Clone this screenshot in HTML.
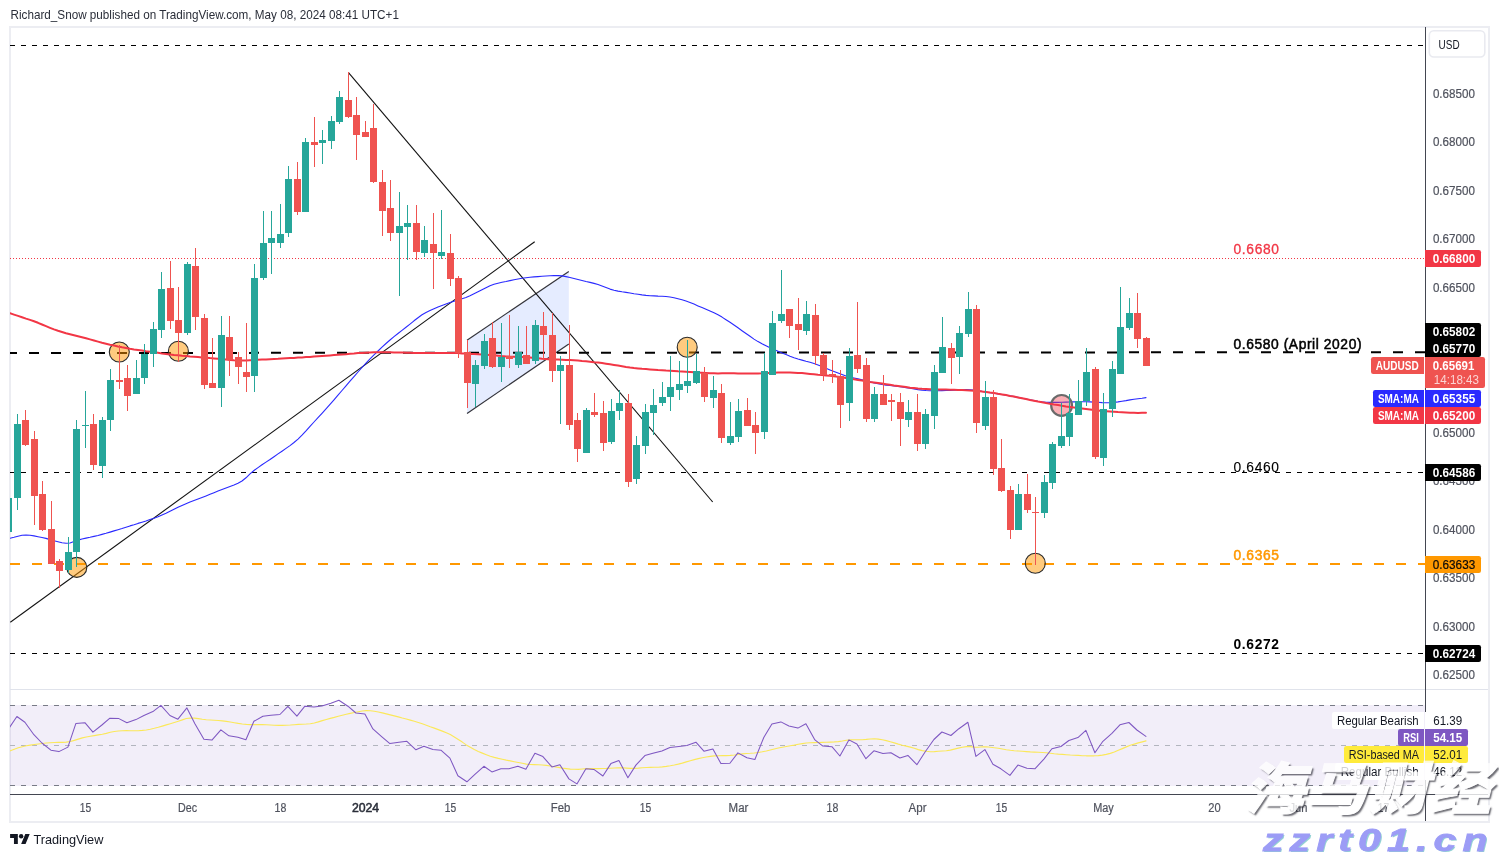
<!DOCTYPE html>
<html lang="en">
<head>
<meta charset="utf-8">
<title>AUDUSD chart - TradingView</title>
<style>
html,body{margin:0;padding:0;background:#fff;}
body{width:1499px;height:857px;overflow:hidden;position:relative;font-family:"Liberation Sans","Noto Sans CJK SC",sans-serif;}
#chart{position:absolute;left:0;top:0;width:1499px;height:857px;overflow:hidden;}
.hdr{position:absolute;left:10.5px;top:5px;height:18px;line-height:18px;font-size:12.6px;color:#2a2e39;white-space:nowrap;letter-spacing:0.12px;}
.ftr{position:absolute;left:10px;top:830px;height:18px;display:flex;align-items:center;color:#131722;}
.ftr svg{display:block;}
.ftr span{font-size:13.4px;margin-left:3.6px;letter-spacing:-0.05px;line-height:18px;}
.wm1{position:absolute;left:1240px;top:755px;font-family:"Liberation Sans","Noto Sans CJK SC","WenQuanYi Zen Hei",sans-serif;font-weight:900;font-size:56px;line-height:70px;-webkit-text-stroke:1px #fff;color:#fff;opacity:0.8;white-space:nowrap;transform:skewX(-14deg) scaleX(1.08);transform-origin:left bottom;text-shadow:2px 2px 1.5px rgba(40,40,50,0.85);letter-spacing:1.5px;}
.wm2{position:absolute;left:1263px;top:822px;-webkit-text-stroke:0.8px #9c9cf6;font-weight:bold;font-style:italic;font-size:32px;line-height:36px;color:#9c9cf6;white-space:nowrap;letter-spacing:4.8px;text-shadow:1px 1px 0 rgba(120,200,200,0.8);transform:scaleX(1.28);transform-origin:left top;}
</style>
</head>
<body>
<div id="chart">
<svg width="1499" height="857" viewBox="0 0 1499 857" style="position:absolute;left:0;top:0;font-family:'Liberation Sans',sans-serif">
<defs>
<clipPath id="cpMain"><rect x="10" y="28" width="1415" height="661"/></clipPath>
<clipPath id="cpRsi"><rect x="10" y="690" width="1415" height="104"/></clipPath>
</defs>
<rect x="10" y="27" width="1479" height="795" fill="#fff" stroke="#ecedf2" stroke-width="2" shape-rendering="crispEdges"/>
<rect x="10" y="689" width="1478" height="1" fill="#e0e3eb" shape-rendering="crispEdges"/>
<g clip-path="url(#cpMain)">
<polygon points="467,340.2 568.8,271.4 568.8,344.1 467,413.4" fill="#2962ff" fill-opacity="0.12"/>
<line x1="467" y1="340.2" x2="568.8" y2="271.4" stroke="#33333a" stroke-width="1.2"/>
<line x1="467" y1="413.4" x2="568.8" y2="344.1" stroke="#33333a" stroke-width="1.2"/>
<path d="M10 45h5v1h-5zM21 45h5v1h-5zM32 45h5v1h-5zM43 45h5v1h-5zM54 45h5v1h-5zM65 45h5v1h-5zM76 45h5v1h-5zM87 45h5v1h-5zM98 45h5v1h-5zM109 45h5v1h-5zM120 45h5v1h-5zM131 45h5v1h-5zM142 45h5v1h-5zM153 45h5v1h-5zM164 45h5v1h-5zM175 45h5v1h-5zM186 45h5v1h-5zM197 45h5v1h-5zM208 45h5v1h-5zM219 45h5v1h-5zM230 45h5v1h-5zM241 45h5v1h-5zM252 45h5v1h-5zM263 45h5v1h-5zM274 45h5v1h-5zM285 45h5v1h-5zM296 45h5v1h-5zM307 45h5v1h-5zM318 45h5v1h-5zM329 45h5v1h-5zM340 45h5v1h-5zM351 45h5v1h-5zM362 45h5v1h-5zM373 45h5v1h-5zM384 45h5v1h-5zM395 45h5v1h-5zM406 45h5v1h-5zM417 45h5v1h-5zM428 45h5v1h-5zM439 45h5v1h-5zM450 45h5v1h-5zM461 45h5v1h-5zM472 45h5v1h-5zM483 45h5v1h-5zM494 45h5v1h-5zM505 45h5v1h-5zM516 45h5v1h-5zM527 45h5v1h-5zM538 45h5v1h-5zM549 45h5v1h-5zM560 45h5v1h-5zM571 45h5v1h-5zM582 45h5v1h-5zM593 45h5v1h-5zM604 45h5v1h-5zM615 45h5v1h-5zM626 45h5v1h-5zM637 45h5v1h-5zM648 45h5v1h-5zM659 45h5v1h-5zM670 45h5v1h-5zM681 45h5v1h-5zM692 45h5v1h-5zM703 45h5v1h-5zM714 45h5v1h-5zM725 45h5v1h-5zM736 45h5v1h-5zM747 45h5v1h-5zM758 45h5v1h-5zM769 45h5v1h-5zM780 45h5v1h-5zM791 45h5v1h-5zM802 45h5v1h-5zM813 45h5v1h-5zM824 45h5v1h-5zM835 45h5v1h-5zM846 45h5v1h-5zM857 45h5v1h-5zM868 45h5v1h-5zM879 45h5v1h-5zM890 45h5v1h-5zM901 45h5v1h-5zM912 45h5v1h-5zM923 45h5v1h-5zM934 45h5v1h-5zM945 45h5v1h-5zM956 45h5v1h-5zM967 45h5v1h-5zM978 45h5v1h-5zM989 45h5v1h-5zM1000 45h5v1h-5zM1011 45h5v1h-5zM1022 45h5v1h-5zM1033 45h5v1h-5zM1044 45h5v1h-5zM1055 45h5v1h-5zM1066 45h5v1h-5zM1077 45h5v1h-5zM1088 45h5v1h-5zM1099 45h5v1h-5zM1110 45h5v1h-5zM1121 45h5v1h-5zM1132 45h5v1h-5zM1143 45h5v1h-5zM1154 45h5v1h-5zM1165 45h5v1h-5zM1176 45h5v1h-5zM1187 45h5v1h-5zM1198 45h5v1h-5zM1209 45h5v1h-5zM1220 45h5v1h-5zM1231 45h5v1h-5zM1242 45h5v1h-5zM1253 45h5v1h-5zM1264 45h5v1h-5zM1275 45h5v1h-5zM1286 45h5v1h-5zM1297 45h5v1h-5zM1308 45h5v1h-5zM1319 45h5v1h-5zM1330 45h5v1h-5zM1341 45h5v1h-5zM1352 45h5v1h-5zM1363 45h5v1h-5zM1374 45h5v1h-5zM1385 45h5v1h-5zM1396 45h5v1h-5zM1407 45h5v1h-5zM1418 45h5v1h-5z" fill="#000" shape-rendering="crispEdges"/>
<path d="M10 258h1v1h-1zM13 258h1v1h-1zM16 258h1v1h-1zM19 258h1v1h-1zM22 258h1v1h-1zM25 258h1v1h-1zM28 258h1v1h-1zM31 258h1v1h-1zM34 258h1v1h-1zM37 258h1v1h-1zM40 258h1v1h-1zM43 258h1v1h-1zM46 258h1v1h-1zM49 258h1v1h-1zM52 258h1v1h-1zM55 258h1v1h-1zM58 258h1v1h-1zM61 258h1v1h-1zM64 258h1v1h-1zM67 258h1v1h-1zM70 258h1v1h-1zM73 258h1v1h-1zM76 258h1v1h-1zM79 258h1v1h-1zM82 258h1v1h-1zM85 258h1v1h-1zM88 258h1v1h-1zM91 258h1v1h-1zM94 258h1v1h-1zM97 258h1v1h-1zM100 258h1v1h-1zM103 258h1v1h-1zM106 258h1v1h-1zM109 258h1v1h-1zM112 258h1v1h-1zM115 258h1v1h-1zM118 258h1v1h-1zM121 258h1v1h-1zM124 258h1v1h-1zM127 258h1v1h-1zM130 258h1v1h-1zM133 258h1v1h-1zM136 258h1v1h-1zM139 258h1v1h-1zM142 258h1v1h-1zM145 258h1v1h-1zM148 258h1v1h-1zM151 258h1v1h-1zM154 258h1v1h-1zM157 258h1v1h-1zM160 258h1v1h-1zM163 258h1v1h-1zM166 258h1v1h-1zM169 258h1v1h-1zM172 258h1v1h-1zM175 258h1v1h-1zM178 258h1v1h-1zM181 258h1v1h-1zM184 258h1v1h-1zM187 258h1v1h-1zM190 258h1v1h-1zM193 258h1v1h-1zM196 258h1v1h-1zM199 258h1v1h-1zM202 258h1v1h-1zM205 258h1v1h-1zM208 258h1v1h-1zM211 258h1v1h-1zM214 258h1v1h-1zM217 258h1v1h-1zM220 258h1v1h-1zM223 258h1v1h-1zM226 258h1v1h-1zM229 258h1v1h-1zM232 258h1v1h-1zM235 258h1v1h-1zM238 258h1v1h-1zM241 258h1v1h-1zM244 258h1v1h-1zM247 258h1v1h-1zM250 258h1v1h-1zM253 258h1v1h-1zM256 258h1v1h-1zM259 258h1v1h-1zM262 258h1v1h-1zM265 258h1v1h-1zM268 258h1v1h-1zM271 258h1v1h-1zM274 258h1v1h-1zM277 258h1v1h-1zM280 258h1v1h-1zM283 258h1v1h-1zM286 258h1v1h-1zM289 258h1v1h-1zM292 258h1v1h-1zM295 258h1v1h-1zM298 258h1v1h-1zM301 258h1v1h-1zM304 258h1v1h-1zM307 258h1v1h-1zM310 258h1v1h-1zM313 258h1v1h-1zM316 258h1v1h-1zM319 258h1v1h-1zM322 258h1v1h-1zM325 258h1v1h-1zM328 258h1v1h-1zM331 258h1v1h-1zM334 258h1v1h-1zM337 258h1v1h-1zM340 258h1v1h-1zM343 258h1v1h-1zM346 258h1v1h-1zM349 258h1v1h-1zM352 258h1v1h-1zM355 258h1v1h-1zM358 258h1v1h-1zM361 258h1v1h-1zM364 258h1v1h-1zM367 258h1v1h-1zM370 258h1v1h-1zM373 258h1v1h-1zM376 258h1v1h-1zM379 258h1v1h-1zM382 258h1v1h-1zM385 258h1v1h-1zM388 258h1v1h-1zM391 258h1v1h-1zM394 258h1v1h-1zM397 258h1v1h-1zM400 258h1v1h-1zM403 258h1v1h-1zM406 258h1v1h-1zM409 258h1v1h-1zM412 258h1v1h-1zM415 258h1v1h-1zM418 258h1v1h-1zM421 258h1v1h-1zM424 258h1v1h-1zM427 258h1v1h-1zM430 258h1v1h-1zM433 258h1v1h-1zM436 258h1v1h-1zM439 258h1v1h-1zM442 258h1v1h-1zM445 258h1v1h-1zM448 258h1v1h-1zM451 258h1v1h-1zM454 258h1v1h-1zM457 258h1v1h-1zM460 258h1v1h-1zM463 258h1v1h-1zM466 258h1v1h-1zM469 258h1v1h-1zM472 258h1v1h-1zM475 258h1v1h-1zM478 258h1v1h-1zM481 258h1v1h-1zM484 258h1v1h-1zM487 258h1v1h-1zM490 258h1v1h-1zM493 258h1v1h-1zM496 258h1v1h-1zM499 258h1v1h-1zM502 258h1v1h-1zM505 258h1v1h-1zM508 258h1v1h-1zM511 258h1v1h-1zM514 258h1v1h-1zM517 258h1v1h-1zM520 258h1v1h-1zM523 258h1v1h-1zM526 258h1v1h-1zM529 258h1v1h-1zM532 258h1v1h-1zM535 258h1v1h-1zM538 258h1v1h-1zM541 258h1v1h-1zM544 258h1v1h-1zM547 258h1v1h-1zM550 258h1v1h-1zM553 258h1v1h-1zM556 258h1v1h-1zM559 258h1v1h-1zM562 258h1v1h-1zM565 258h1v1h-1zM568 258h1v1h-1zM571 258h1v1h-1zM574 258h1v1h-1zM577 258h1v1h-1zM580 258h1v1h-1zM583 258h1v1h-1zM586 258h1v1h-1zM589 258h1v1h-1zM592 258h1v1h-1zM595 258h1v1h-1zM598 258h1v1h-1zM601 258h1v1h-1zM604 258h1v1h-1zM607 258h1v1h-1zM610 258h1v1h-1zM613 258h1v1h-1zM616 258h1v1h-1zM619 258h1v1h-1zM622 258h1v1h-1zM625 258h1v1h-1zM628 258h1v1h-1zM631 258h1v1h-1zM634 258h1v1h-1zM637 258h1v1h-1zM640 258h1v1h-1zM643 258h1v1h-1zM646 258h1v1h-1zM649 258h1v1h-1zM652 258h1v1h-1zM655 258h1v1h-1zM658 258h1v1h-1zM661 258h1v1h-1zM664 258h1v1h-1zM667 258h1v1h-1zM670 258h1v1h-1zM673 258h1v1h-1zM676 258h1v1h-1zM679 258h1v1h-1zM682 258h1v1h-1zM685 258h1v1h-1zM688 258h1v1h-1zM691 258h1v1h-1zM694 258h1v1h-1zM697 258h1v1h-1zM700 258h1v1h-1zM703 258h1v1h-1zM706 258h1v1h-1zM709 258h1v1h-1zM712 258h1v1h-1zM715 258h1v1h-1zM718 258h1v1h-1zM721 258h1v1h-1zM724 258h1v1h-1zM727 258h1v1h-1zM730 258h1v1h-1zM733 258h1v1h-1zM736 258h1v1h-1zM739 258h1v1h-1zM742 258h1v1h-1zM745 258h1v1h-1zM748 258h1v1h-1zM751 258h1v1h-1zM754 258h1v1h-1zM757 258h1v1h-1zM760 258h1v1h-1zM763 258h1v1h-1zM766 258h1v1h-1zM769 258h1v1h-1zM772 258h1v1h-1zM775 258h1v1h-1zM778 258h1v1h-1zM781 258h1v1h-1zM784 258h1v1h-1zM787 258h1v1h-1zM790 258h1v1h-1zM793 258h1v1h-1zM796 258h1v1h-1zM799 258h1v1h-1zM802 258h1v1h-1zM805 258h1v1h-1zM808 258h1v1h-1zM811 258h1v1h-1zM814 258h1v1h-1zM817 258h1v1h-1zM820 258h1v1h-1zM823 258h1v1h-1zM826 258h1v1h-1zM829 258h1v1h-1zM832 258h1v1h-1zM835 258h1v1h-1zM838 258h1v1h-1zM841 258h1v1h-1zM844 258h1v1h-1zM847 258h1v1h-1zM850 258h1v1h-1zM853 258h1v1h-1zM856 258h1v1h-1zM859 258h1v1h-1zM862 258h1v1h-1zM865 258h1v1h-1zM868 258h1v1h-1zM871 258h1v1h-1zM874 258h1v1h-1zM877 258h1v1h-1zM880 258h1v1h-1zM883 258h1v1h-1zM886 258h1v1h-1zM889 258h1v1h-1zM892 258h1v1h-1zM895 258h1v1h-1zM898 258h1v1h-1zM901 258h1v1h-1zM904 258h1v1h-1zM907 258h1v1h-1zM910 258h1v1h-1zM913 258h1v1h-1zM916 258h1v1h-1zM919 258h1v1h-1zM922 258h1v1h-1zM925 258h1v1h-1zM928 258h1v1h-1zM931 258h1v1h-1zM934 258h1v1h-1zM937 258h1v1h-1zM940 258h1v1h-1zM943 258h1v1h-1zM946 258h1v1h-1zM949 258h1v1h-1zM952 258h1v1h-1zM955 258h1v1h-1zM958 258h1v1h-1zM961 258h1v1h-1zM964 258h1v1h-1zM967 258h1v1h-1zM970 258h1v1h-1zM973 258h1v1h-1zM976 258h1v1h-1zM979 258h1v1h-1zM982 258h1v1h-1zM985 258h1v1h-1zM988 258h1v1h-1zM991 258h1v1h-1zM994 258h1v1h-1zM997 258h1v1h-1zM1000 258h1v1h-1zM1003 258h1v1h-1zM1006 258h1v1h-1zM1009 258h1v1h-1zM1012 258h1v1h-1zM1015 258h1v1h-1zM1018 258h1v1h-1zM1021 258h1v1h-1zM1024 258h1v1h-1zM1027 258h1v1h-1zM1030 258h1v1h-1zM1033 258h1v1h-1zM1036 258h1v1h-1zM1039 258h1v1h-1zM1042 258h1v1h-1zM1045 258h1v1h-1zM1048 258h1v1h-1zM1051 258h1v1h-1zM1054 258h1v1h-1zM1057 258h1v1h-1zM1060 258h1v1h-1zM1063 258h1v1h-1zM1066 258h1v1h-1zM1069 258h1v1h-1zM1072 258h1v1h-1zM1075 258h1v1h-1zM1078 258h1v1h-1zM1081 258h1v1h-1zM1084 258h1v1h-1zM1087 258h1v1h-1zM1090 258h1v1h-1zM1093 258h1v1h-1zM1096 258h1v1h-1zM1099 258h1v1h-1zM1102 258h1v1h-1zM1105 258h1v1h-1zM1108 258h1v1h-1zM1111 258h1v1h-1zM1114 258h1v1h-1zM1117 258h1v1h-1zM1120 258h1v1h-1zM1123 258h1v1h-1zM1126 258h1v1h-1zM1129 258h1v1h-1zM1132 258h1v1h-1zM1135 258h1v1h-1zM1138 258h1v1h-1zM1141 258h1v1h-1zM1144 258h1v1h-1zM1147 258h1v1h-1zM1150 258h1v1h-1zM1153 258h1v1h-1zM1156 258h1v1h-1zM1159 258h1v1h-1zM1162 258h1v1h-1zM1165 258h1v1h-1zM1168 258h1v1h-1zM1171 258h1v1h-1zM1174 258h1v1h-1zM1177 258h1v1h-1zM1180 258h1v1h-1zM1183 258h1v1h-1zM1186 258h1v1h-1zM1189 258h1v1h-1zM1192 258h1v1h-1zM1195 258h1v1h-1zM1198 258h1v1h-1zM1201 258h1v1h-1zM1204 258h1v1h-1zM1207 258h1v1h-1zM1210 258h1v1h-1zM1213 258h1v1h-1zM1216 258h1v1h-1zM1219 258h1v1h-1zM1222 258h1v1h-1zM1225 258h1v1h-1zM1228 258h1v1h-1zM1231 258h1v1h-1zM1234 258h1v1h-1zM1237 258h1v1h-1zM1240 258h1v1h-1zM1243 258h1v1h-1zM1246 258h1v1h-1zM1249 258h1v1h-1zM1252 258h1v1h-1zM1255 258h1v1h-1zM1258 258h1v1h-1zM1261 258h1v1h-1zM1264 258h1v1h-1zM1267 258h1v1h-1zM1270 258h1v1h-1zM1273 258h1v1h-1zM1276 258h1v1h-1zM1279 258h1v1h-1zM1282 258h1v1h-1zM1285 258h1v1h-1zM1288 258h1v1h-1zM1291 258h1v1h-1zM1294 258h1v1h-1zM1297 258h1v1h-1zM1300 258h1v1h-1zM1303 258h1v1h-1zM1306 258h1v1h-1zM1309 258h1v1h-1zM1312 258h1v1h-1zM1315 258h1v1h-1zM1318 258h1v1h-1zM1321 258h1v1h-1zM1324 258h1v1h-1zM1327 258h1v1h-1zM1330 258h1v1h-1zM1333 258h1v1h-1zM1336 258h1v1h-1zM1339 258h1v1h-1zM1342 258h1v1h-1zM1345 258h1v1h-1zM1348 258h1v1h-1zM1351 258h1v1h-1zM1354 258h1v1h-1zM1357 258h1v1h-1zM1360 258h1v1h-1zM1363 258h1v1h-1zM1366 258h1v1h-1zM1369 258h1v1h-1zM1372 258h1v1h-1zM1375 258h1v1h-1zM1378 258h1v1h-1zM1381 258h1v1h-1zM1384 258h1v1h-1zM1387 258h1v1h-1zM1390 258h1v1h-1zM1393 258h1v1h-1zM1396 258h1v1h-1zM1399 258h1v1h-1zM1402 258h1v1h-1zM1405 258h1v1h-1zM1408 258h1v1h-1zM1411 258h1v1h-1zM1414 258h1v1h-1zM1417 258h1v1h-1zM1420 258h1v1h-1zM1423 258h1v1h-1z" fill="#f23645" shape-rendering="crispEdges"/>
<line x1="-15" y1="353.03" x2="1425" y2="352.2" stroke="#000" stroke-width="2" stroke-dasharray="10 12"/>
<path d="M10 472h5v1h-5zM21 472h5v1h-5zM32 472h5v1h-5zM43 472h5v1h-5zM54 472h5v1h-5zM65 472h5v1h-5zM76 472h5v1h-5zM87 472h5v1h-5zM98 472h5v1h-5zM109 472h5v1h-5zM120 472h5v1h-5zM131 472h5v1h-5zM142 472h5v1h-5zM153 472h5v1h-5zM164 472h5v1h-5zM175 472h5v1h-5zM186 472h5v1h-5zM197 472h5v1h-5zM208 472h5v1h-5zM219 472h5v1h-5zM230 472h5v1h-5zM241 472h5v1h-5zM252 472h5v1h-5zM263 472h5v1h-5zM274 472h5v1h-5zM285 472h5v1h-5zM296 472h5v1h-5zM307 472h5v1h-5zM318 472h5v1h-5zM329 472h5v1h-5zM340 472h5v1h-5zM351 472h5v1h-5zM362 472h5v1h-5zM373 472h5v1h-5zM384 472h5v1h-5zM395 472h5v1h-5zM406 472h5v1h-5zM417 472h5v1h-5zM428 472h5v1h-5zM439 472h5v1h-5zM450 472h5v1h-5zM461 472h5v1h-5zM472 472h5v1h-5zM483 472h5v1h-5zM494 472h5v1h-5zM505 472h5v1h-5zM516 472h5v1h-5zM527 472h5v1h-5zM538 472h5v1h-5zM549 472h5v1h-5zM560 472h5v1h-5zM571 472h5v1h-5zM582 472h5v1h-5zM593 472h5v1h-5zM604 472h5v1h-5zM615 472h5v1h-5zM626 472h5v1h-5zM637 472h5v1h-5zM648 472h5v1h-5zM659 472h5v1h-5zM670 472h5v1h-5zM681 472h5v1h-5zM692 472h5v1h-5zM703 472h5v1h-5zM714 472h5v1h-5zM725 472h5v1h-5zM736 472h5v1h-5zM747 472h5v1h-5zM758 472h5v1h-5zM769 472h5v1h-5zM780 472h5v1h-5zM791 472h5v1h-5zM802 472h5v1h-5zM813 472h5v1h-5zM824 472h5v1h-5zM835 472h5v1h-5zM846 472h5v1h-5zM857 472h5v1h-5zM868 472h5v1h-5zM879 472h5v1h-5zM890 472h5v1h-5zM901 472h5v1h-5zM912 472h5v1h-5zM923 472h5v1h-5zM934 472h5v1h-5zM945 472h5v1h-5zM956 472h5v1h-5zM967 472h5v1h-5zM978 472h5v1h-5zM989 472h5v1h-5zM1000 472h5v1h-5zM1011 472h5v1h-5zM1022 472h5v1h-5zM1033 472h5v1h-5zM1044 472h5v1h-5zM1055 472h5v1h-5zM1066 472h5v1h-5zM1077 472h5v1h-5zM1088 472h5v1h-5zM1099 472h5v1h-5zM1110 472h5v1h-5zM1121 472h5v1h-5zM1132 472h5v1h-5zM1143 472h5v1h-5zM1154 472h5v1h-5zM1165 472h5v1h-5zM1176 472h5v1h-5zM1187 472h5v1h-5zM1198 472h5v1h-5zM1209 472h5v1h-5zM1220 472h5v1h-5zM1231 472h5v1h-5zM1242 472h5v1h-5zM1253 472h5v1h-5zM1264 472h5v1h-5zM1275 472h5v1h-5zM1286 472h5v1h-5zM1297 472h5v1h-5zM1308 472h5v1h-5zM1319 472h5v1h-5zM1330 472h5v1h-5zM1341 472h5v1h-5zM1352 472h5v1h-5zM1363 472h5v1h-5zM1374 472h5v1h-5zM1385 472h5v1h-5zM1396 472h5v1h-5zM1407 472h5v1h-5zM1418 472h5v1h-5z" fill="#000" shape-rendering="crispEdges"/>
<path d="M10 563h10v2h-10zM32 563h10v2h-10zM54 563h10v2h-10zM76 563h10v2h-10zM98 563h10v2h-10zM120 563h10v2h-10zM142 563h10v2h-10zM164 563h10v2h-10zM186 563h10v2h-10zM208 563h10v2h-10zM230 563h10v2h-10zM252 563h10v2h-10zM274 563h10v2h-10zM296 563h10v2h-10zM318 563h10v2h-10zM340 563h10v2h-10zM362 563h10v2h-10zM384 563h10v2h-10zM406 563h10v2h-10zM428 563h10v2h-10zM450 563h10v2h-10zM472 563h10v2h-10zM494 563h10v2h-10zM516 563h10v2h-10zM538 563h10v2h-10zM560 563h10v2h-10zM582 563h10v2h-10zM604 563h10v2h-10zM626 563h10v2h-10zM648 563h10v2h-10zM670 563h10v2h-10zM692 563h10v2h-10zM714 563h10v2h-10zM736 563h10v2h-10zM758 563h10v2h-10zM780 563h10v2h-10zM802 563h10v2h-10zM824 563h10v2h-10zM846 563h10v2h-10zM868 563h10v2h-10zM890 563h10v2h-10zM912 563h10v2h-10zM934 563h10v2h-10zM956 563h10v2h-10zM978 563h10v2h-10zM1000 563h10v2h-10zM1022 563h10v2h-10zM1044 563h10v2h-10zM1066 563h10v2h-10zM1088 563h10v2h-10zM1110 563h10v2h-10zM1132 563h10v2h-10zM1154 563h10v2h-10zM1176 563h10v2h-10zM1198 563h10v2h-10zM1220 563h10v2h-10zM1242 563h10v2h-10zM1264 563h10v2h-10zM1286 563h10v2h-10zM1308 563h10v2h-10zM1330 563h10v2h-10zM1352 563h10v2h-10zM1374 563h10v2h-10zM1396 563h10v2h-10zM1418 563h7v2h-7z" fill="#ff9800" shape-rendering="crispEdges"/>
<path d="M10 653h5v1h-5zM21 653h5v1h-5zM32 653h5v1h-5zM43 653h5v1h-5zM54 653h5v1h-5zM65 653h5v1h-5zM76 653h5v1h-5zM87 653h5v1h-5zM98 653h5v1h-5zM109 653h5v1h-5zM120 653h5v1h-5zM131 653h5v1h-5zM142 653h5v1h-5zM153 653h5v1h-5zM164 653h5v1h-5zM175 653h5v1h-5zM186 653h5v1h-5zM197 653h5v1h-5zM208 653h5v1h-5zM219 653h5v1h-5zM230 653h5v1h-5zM241 653h5v1h-5zM252 653h5v1h-5zM263 653h5v1h-5zM274 653h5v1h-5zM285 653h5v1h-5zM296 653h5v1h-5zM307 653h5v1h-5zM318 653h5v1h-5zM329 653h5v1h-5zM340 653h5v1h-5zM351 653h5v1h-5zM362 653h5v1h-5zM373 653h5v1h-5zM384 653h5v1h-5zM395 653h5v1h-5zM406 653h5v1h-5zM417 653h5v1h-5zM428 653h5v1h-5zM439 653h5v1h-5zM450 653h5v1h-5zM461 653h5v1h-5zM472 653h5v1h-5zM483 653h5v1h-5zM494 653h5v1h-5zM505 653h5v1h-5zM516 653h5v1h-5zM527 653h5v1h-5zM538 653h5v1h-5zM549 653h5v1h-5zM560 653h5v1h-5zM571 653h5v1h-5zM582 653h5v1h-5zM593 653h5v1h-5zM604 653h5v1h-5zM615 653h5v1h-5zM626 653h5v1h-5zM637 653h5v1h-5zM648 653h5v1h-5zM659 653h5v1h-5zM670 653h5v1h-5zM681 653h5v1h-5zM692 653h5v1h-5zM703 653h5v1h-5zM714 653h5v1h-5zM725 653h5v1h-5zM736 653h5v1h-5zM747 653h5v1h-5zM758 653h5v1h-5zM769 653h5v1h-5zM780 653h5v1h-5zM791 653h5v1h-5zM802 653h5v1h-5zM813 653h5v1h-5zM824 653h5v1h-5zM835 653h5v1h-5zM846 653h5v1h-5zM857 653h5v1h-5zM868 653h5v1h-5zM879 653h5v1h-5zM890 653h5v1h-5zM901 653h5v1h-5zM912 653h5v1h-5zM923 653h5v1h-5zM934 653h5v1h-5zM945 653h5v1h-5zM956 653h5v1h-5zM967 653h5v1h-5zM978 653h5v1h-5zM989 653h5v1h-5zM1000 653h5v1h-5zM1011 653h5v1h-5zM1022 653h5v1h-5zM1033 653h5v1h-5zM1044 653h5v1h-5zM1055 653h5v1h-5zM1066 653h5v1h-5zM1077 653h5v1h-5zM1088 653h5v1h-5zM1099 653h5v1h-5zM1110 653h5v1h-5zM1121 653h5v1h-5zM1132 653h5v1h-5zM1143 653h5v1h-5zM1154 653h5v1h-5zM1165 653h5v1h-5zM1176 653h5v1h-5zM1187 653h5v1h-5zM1198 653h5v1h-5zM1209 653h5v1h-5zM1220 653h5v1h-5zM1231 653h5v1h-5zM1242 653h5v1h-5zM1253 653h5v1h-5zM1264 653h5v1h-5zM1275 653h5v1h-5zM1286 653h5v1h-5zM1297 653h5v1h-5zM1308 653h5v1h-5zM1319 653h5v1h-5zM1330 653h5v1h-5zM1341 653h5v1h-5zM1352 653h5v1h-5zM1363 653h5v1h-5zM1374 653h5v1h-5zM1385 653h5v1h-5zM1396 653h5v1h-5zM1407 653h5v1h-5zM1418 653h5v1h-5z" fill="#000" shape-rendering="crispEdges"/>
<line x1="10.3" y1="622.2" x2="534.7" y2="241.7" stroke="#111" stroke-width="1.1"/>
<line x1="348.5" y1="72.6" x2="712.7" y2="502" stroke="#111" stroke-width="1.1"/>
<circle cx="119.3" cy="352" r="10" fill="#ff9800" fill-opacity="0.5" stroke="#2a2a2a" stroke-width="1.1"/>
<circle cx="178.4" cy="351.2" r="10" fill="#ff9800" fill-opacity="0.5" stroke="#2a2a2a" stroke-width="1.1"/>
<circle cx="76.8" cy="567.4" r="10" fill="#ff9800" fill-opacity="0.5" stroke="#2a2a2a" stroke-width="1.1"/>
<circle cx="687.2" cy="347.3" r="10" fill="#ff9800" fill-opacity="0.5" stroke="#2a2a2a" stroke-width="1.1"/>
<circle cx="1035.3" cy="563.3" r="10" fill="#ff9800" fill-opacity="0.5" stroke="#2a2a2a" stroke-width="1.1"/>
<path d="M10.0 538.3 L14.0 537.3 L18.0 536.2 L22.0 535.3 L26.0 535.0 L30.0 535.2 L34.0 535.9 L38.0 536.7 L42.0 537.5 L46.0 538.4 L50.0 539.6 L54.0 540.7 L58.0 541.7 L62.0 542.7 L66.0 543.3 L70.0 543.0 L74.0 541.6 L78.0 540.1 L82.0 539.0 L86.0 538.1 L90.0 537.3 L94.0 536.4 L98.0 535.5 L102.0 534.4 L106.0 533.3 L110.0 532.1 L114.0 530.9 L118.0 529.7 L122.0 528.5 L126.0 527.2 L130.0 525.9 L134.0 524.7 L138.0 523.4 L142.0 522.2 L146.0 521.0 L150.0 519.6 L154.0 518.2 L158.0 516.7 L162.0 515.0 L166.0 513.2 L170.0 511.2 L174.0 509.2 L178.0 507.3 L182.0 505.4 L186.0 503.7 L190.0 502.1 L194.0 500.6 L198.0 499.1 L202.0 497.5 L206.0 495.9 L210.0 494.3 L214.0 492.7 L218.0 491.1 L222.0 489.5 L226.0 487.9 L230.0 486.4 L234.0 484.9 L238.0 483.2 L242.0 481.0 L246.0 477.8 L250.0 473.9 L254.0 470.5 L258.0 467.6 L262.0 464.8 L266.0 462.1 L270.0 459.5 L274.0 456.7 L278.0 453.9 L282.0 451.2 L286.0 448.4 L290.0 445.6 L294.0 442.5 L298.0 439.1 L302.0 435.2 L306.0 430.9 L310.0 426.4 L314.0 422.0 L318.0 417.7 L322.0 413.3 L326.0 408.9 L330.0 404.4 L334.0 399.9 L338.0 395.2 L342.0 390.5 L346.0 385.8 L350.0 381.2 L354.0 376.6 L358.0 372.0 L362.0 367.5 L366.0 363.1 L370.0 358.9 L374.0 354.9 L378.0 351.0 L382.0 347.2 L386.0 343.5 L390.0 340.0 L394.0 336.7 L398.0 333.5 L402.0 330.4 L406.0 327.3 L410.0 324.1 L414.0 320.8 L418.0 317.7 L422.0 314.8 L426.0 312.5 L430.0 310.5 L434.0 308.7 L438.0 307.0 L442.0 305.4 L446.0 303.9 L450.0 302.5 L454.0 301.2 L458.0 299.9 L462.0 298.7 L466.0 297.4 L470.0 295.7 L474.0 293.8 L478.0 291.8 L482.0 289.8 L486.0 287.7 L490.0 285.8 L494.0 284.3 L498.0 283.2 L502.0 282.3 L506.0 281.5 L510.0 280.6 L514.0 279.7 L518.0 279.0 L522.0 278.3 L526.0 277.8 L530.0 277.3 L534.0 276.9 L538.0 276.6 L542.0 276.3 L546.0 276.0 L550.0 275.8 L554.0 275.6 L558.0 275.6 L562.0 275.9 L566.0 276.6 L570.0 277.5 L574.0 278.5 L578.0 279.5 L582.0 280.5 L586.0 281.5 L590.0 282.4 L594.0 283.4 L598.0 284.5 L602.0 286.0 L606.0 287.6 L610.0 289.1 L614.0 290.3 L618.0 291.1 L622.0 291.8 L626.0 292.4 L630.0 293.0 L634.0 293.7 L638.0 294.3 L642.0 294.9 L646.0 295.4 L650.0 295.7 L654.0 295.9 L658.0 296.1 L662.0 296.2 L666.0 296.5 L670.0 297.0 L674.0 297.7 L678.0 298.7 L682.0 299.8 L686.0 301.1 L690.0 302.4 L694.0 304.1 L698.0 305.9 L702.0 307.6 L706.0 309.3 L710.0 311.0 L714.0 312.8 L718.0 314.8 L722.0 317.1 L726.0 319.7 L730.0 322.3 L734.0 325.0 L738.0 327.8 L742.0 330.7 L746.0 333.5 L750.0 336.3 L754.0 339.1 L758.0 341.6 L762.0 343.8 L766.0 345.8 L770.0 347.7 L774.0 349.5 L778.0 351.3 L782.0 353.0 L786.0 354.6 L790.0 356.3 L794.0 357.8 L798.0 359.0 L802.0 360.1 L806.0 361.2 L810.0 362.2 L814.0 363.5 L818.0 365.0 L822.0 366.6 L826.0 368.3 L830.0 370.0 L834.0 371.6 L838.0 373.1 L842.0 374.5 L846.0 375.9 L850.0 377.1 L854.0 378.0 L858.0 378.9 L862.0 379.8 L866.0 380.8 L870.0 381.8 L874.0 382.9 L878.0 383.8 L882.0 384.5 L886.0 385.1 L890.0 385.5 L894.0 386.0 L898.0 386.4 L902.0 387.0 L906.0 387.6 L910.0 388.3 L914.0 389.0 L918.0 389.6 L922.0 390.1 L926.0 390.5 L930.0 390.7 L934.0 390.7 L938.0 390.7 L942.0 390.6 L946.0 390.5 L950.0 390.4 L954.0 390.2 L958.0 390.0 L962.0 389.8 L966.0 389.6 L970.0 389.7 L974.0 390.1 L978.0 390.7 L982.0 391.4 L986.0 392.1 L990.0 392.7 L994.0 393.3 L998.0 393.9 L1002.0 394.5 L1006.0 395.2 L1010.0 395.9 L1014.0 396.6 L1018.0 397.4 L1022.0 398.2 L1026.0 399.0 L1030.0 399.8 L1034.0 400.6 L1038.0 401.3 L1042.0 401.9 L1046.0 402.3 L1050.0 402.4 L1054.0 402.4 L1058.0 402.4 L1062.0 402.2 L1066.0 402.1 L1070.0 402.0 L1074.0 401.9 L1078.0 401.8 L1082.0 401.7 L1086.0 401.7 L1090.0 401.9 L1094.0 402.1 L1098.0 402.3 L1102.0 402.6 L1106.0 402.8 L1110.0 402.7 L1114.0 402.4 L1118.0 401.9 L1122.0 401.2 L1126.0 400.6 L1130.0 399.9 L1134.0 399.3 L1138.0 398.7 L1142.0 398.2 L1146.0 397.6" fill="none" stroke="#2a2aff" stroke-width="1.1" stroke-linejoin="round" stroke-linecap="round" />
<circle cx="1061.6" cy="405.4" r="10.4" fill="#f23645" fill-opacity="0.4" stroke="#6a6a6a" stroke-width="2.2"/>
<path d="M10.0 313.3 L14.0 314.6 L18.0 315.9 L22.0 317.2 L26.0 318.6 L30.0 319.9 L34.0 321.3 L38.0 322.8 L42.0 324.5 L46.0 326.1 L50.0 327.8 L54.0 329.4 L58.0 330.8 L62.0 332.0 L66.0 333.2 L70.0 334.2 L74.0 335.2 L78.0 336.2 L82.0 337.2 L86.0 338.3 L90.0 339.4 L94.0 340.5 L98.0 341.6 L102.0 342.7 L106.0 343.7 L110.0 344.7 L114.0 345.5 L118.0 346.4 L122.0 347.2 L126.0 347.9 L130.0 348.7 L134.0 349.4 L138.0 350.0 L142.0 350.6 L146.0 351.2 L150.0 351.7 L154.0 352.3 L158.0 352.8 L162.0 353.4 L166.0 353.9 L170.0 354.4 L174.0 354.9 L178.0 355.3 L182.0 355.7 L186.0 356.0 L190.0 356.4 L194.0 356.7 L198.0 357.0 L202.0 357.4 L206.0 357.7 L210.0 358.1 L214.0 358.4 L218.0 358.8 L222.0 359.2 L226.0 359.6 L230.0 360.0 L234.0 360.3 L238.0 360.5 L242.0 360.6 L246.0 360.5 L250.0 360.3 L254.0 360.1 L258.0 359.8 L262.0 359.6 L266.0 359.4 L270.0 359.2 L274.0 359.0 L278.0 358.8 L282.0 358.5 L286.0 358.3 L290.0 358.1 L294.0 357.9 L298.0 357.6 L302.0 357.4 L306.0 357.1 L310.0 356.9 L314.0 356.6 L318.0 356.3 L322.0 356.0 L326.0 355.7 L330.0 355.4 L334.0 355.1 L338.0 354.8 L342.0 354.5 L346.0 354.2 L350.0 353.8 L354.0 353.5 L358.0 353.1 L362.0 352.9 L366.0 352.7 L370.0 352.5 L374.0 352.3 L378.0 352.2 L382.0 352.2 L386.0 352.2 L390.0 352.3 L394.0 352.4 L398.0 352.5 L402.0 352.5 L406.0 352.7 L410.0 352.8 L414.0 352.9 L418.0 353.0 L422.0 353.0 L426.0 353.0 L430.0 353.0 L434.0 353.0 L438.0 353.0 L442.0 353.0 L446.0 352.9 L450.0 353.0 L454.0 353.0 L458.0 353.1 L462.0 353.4 L466.0 353.6 L470.0 353.9 L474.0 354.1 L478.0 354.3 L482.0 354.5 L486.0 354.7 L490.0 355.0 L494.0 355.3 L498.0 355.7 L502.0 356.1 L506.0 356.4 L510.0 356.6 L514.0 356.7 L518.0 356.9 L522.0 357.1 L526.0 357.3 L530.0 357.5 L534.0 357.9 L538.0 358.3 L542.0 358.8 L546.0 359.1 L550.0 359.4 L554.0 359.5 L558.0 359.5 L562.0 359.7 L566.0 359.9 L570.0 360.1 L574.0 360.3 L578.0 360.6 L582.0 361.0 L586.0 361.3 L590.0 361.7 L594.0 362.2 L598.0 362.6 L602.0 363.1 L606.0 363.7 L610.0 364.3 L614.0 364.9 L618.0 365.5 L622.0 366.2 L626.0 366.9 L630.0 367.5 L634.0 368.0 L638.0 368.4 L642.0 368.8 L646.0 369.1 L650.0 369.4 L654.0 369.7 L658.0 370.0 L662.0 370.2 L666.0 370.5 L670.0 370.7 L674.0 370.9 L678.0 371.2 L682.0 371.4 L686.0 371.7 L690.0 372.0 L694.0 372.3 L698.0 372.6 L702.0 372.8 L706.0 373.0 L710.0 373.2 L714.0 373.3 L718.0 373.4 L722.0 373.3 L726.0 373.3 L730.0 373.3 L734.0 373.3 L738.0 373.4 L742.0 373.5 L746.0 373.5 L750.0 373.5 L754.0 373.5 L758.0 373.4 L762.0 373.3 L766.0 373.1 L770.0 372.9 L774.0 372.7 L778.0 372.5 L782.0 372.5 L786.0 372.5 L790.0 372.6 L794.0 372.7 L798.0 372.9 L802.0 373.1 L806.0 373.5 L810.0 373.9 L814.0 374.3 L818.0 374.7 L822.0 375.0 L826.0 375.4 L830.0 375.8 L834.0 376.3 L838.0 376.8 L842.0 377.3 L846.0 377.9 L850.0 378.5 L854.0 379.2 L858.0 379.9 L862.0 380.6 L866.0 381.3 L870.0 381.9 L874.0 382.4 L878.0 383.0 L882.0 383.6 L886.0 384.2 L890.0 384.8 L894.0 385.4 L898.0 385.9 L902.0 386.5 L906.0 387.1 L910.0 387.7 L914.0 388.1 L918.0 388.5 L922.0 388.8 L926.0 389.0 L930.0 389.2 L934.0 389.3 L938.0 389.4 L942.0 389.5 L946.0 389.6 L950.0 389.7 L954.0 389.8 L958.0 390.0 L962.0 390.1 L966.0 390.3 L970.0 390.5 L974.0 390.8 L978.0 391.1 L982.0 391.6 L986.0 392.0 L990.0 392.6 L994.0 393.1 L998.0 393.8 L1002.0 394.4 L1006.0 395.1 L1010.0 395.9 L1014.0 396.6 L1018.0 397.4 L1022.0 398.2 L1026.0 399.1 L1030.0 400.0 L1034.0 400.8 L1038.0 401.6 L1042.0 402.3 L1046.0 403.1 L1050.0 403.8 L1054.0 404.5 L1058.0 405.1 L1062.0 405.8 L1066.0 406.4 L1070.0 406.9 L1074.0 407.5 L1078.0 408.1 L1082.0 408.6 L1086.0 409.1 L1090.0 409.6 L1094.0 410.1 L1098.0 410.5 L1102.0 410.9 L1106.0 411.2 L1110.0 411.5 L1114.0 411.8 L1118.0 412.1 L1122.0 412.3 L1126.0 412.5 L1130.0 412.7 L1134.0 412.8 L1138.0 412.9 L1142.0 412.8 L1146.0 412.8" fill="none" stroke="#f23645" stroke-width="2" stroke-linejoin="round" stroke-linecap="round" />
<path d="M5 498h7v34h-7zM17 414h1v96h-1zM14 424h7v74h-7zM68 537h1v36h-1zM65 552h7v18h-7zM76 420h1v147h-1zM73 429h7v123h-7zM85 391h1v57h-1zM82 425h7v1h-7zM102 417h1v61h-1zM99 420h7v46h-7zM110 369h1v62h-1zM107 380h7v40h-7zM136 360h1v34h-1zM133 378h7v16h-7zM144 344h1v40h-1zM141 354h7v24h-7zM153 322h1v45h-1zM150 329h7v25h-7zM161 272h1v66h-1zM158 289h7v41h-7zM187 262h1v73h-1zM184 264h7v69h-7zM221 316h1v91h-1zM218 335h7v53h-7zM254 264h1v128h-1zM251 278h7v98h-7zM263 211h1v69h-1zM260 243h7v35h-7zM271 211h1v63h-1zM268 238h7v5h-7zM280 204h1v44h-1zM277 234h7v9h-7zM288 166h1v71h-1zM285 179h7v54h-7zM305 138h1v74h-1zM302 142h7v70h-7zM322 130h1v34h-1zM319 140h7v3h-7zM331 116h1v33h-1zM328 121h7v20h-7zM339 91h1v33h-1zM336 97h7v25h-7zM399 192h1v104h-1zM396 226h7v7h-7zM407 205h1v55h-1zM404 223h7v4h-7zM424 226h1v31h-1zM421 240h7v13h-7zM441 210h1v49h-1zM438 252h7v4h-7zM475 360h1v47h-1zM472 365h7v19h-7zM484 334h1v35h-1zM481 341h7v25h-7zM501 323h1v59h-1zM498 357h7v10h-7zM518 326h1v42h-1zM515 352h7v13h-7zM535 320h1v44h-1zM532 325h7v36h-7zM560 356h1v68h-1zM557 365h7v6h-7zM586 408h1v45h-1zM583 410h7v43h-7zM611 399h1v45h-1zM608 411h7v31h-7zM619 390h1v30h-1zM616 403h7v8h-7zM636 436h1v48h-1zM633 445h7v34h-7zM645 404h1v50h-1zM642 412h7v34h-7zM653 389h1v46h-1zM650 405h7v8h-7zM662 382h1v24h-1zM659 397h7v6h-7zM670 356h1v55h-1zM667 387h7v10h-7zM679 361h1v39h-1zM676 384h7v6h-7zM687 340h1v53h-1zM684 381h7v5h-7zM696 354h1v30h-1zM693 371h7v12h-7zM713 376h1v32h-1zM710 390h7v8h-7zM730 402h1v43h-1zM727 436h7v7h-7zM738 399h1v43h-1zM735 411h7v26h-7zM764 353h1v86h-1zM761 371h7v61h-7zM772 311h1v64h-1zM769 323h7v52h-7zM781 270h1v53h-1zM778 314h7v7h-7zM806 301h1v34h-1zM803 314h7v17h-7zM849 348h1v73h-1zM846 356h7v47h-7zM874 387h1v35h-1zM871 394h7v25h-7zM908 400h1v27h-1zM905 412h7v8h-7zM925 409h1v40h-1zM922 414h7v30h-7zM934 365h1v64h-1zM931 372h7v44h-7zM942 317h1v56h-1zM939 347h7v26h-7zM959 326h1v48h-1zM956 333h7v24h-7zM968 292h1v45h-1zM965 309h7v25h-7zM985 381h1v49h-1zM982 397h7v29h-7zM1018 484h1v46h-1zM1015 494h7v36h-7zM1044 475h1v43h-1zM1041 482h7v31h-7zM1052 442h1v47h-1zM1049 444h7v39h-7zM1061 403h1v45h-1zM1058 436h7v10h-7zM1069 394h1v52h-1zM1066 413h7v24h-7zM1078 380h1v35h-1zM1075 401h7v14h-7zM1086 348h1v58h-1zM1083 372h7v29h-7zM1103 393h1v73h-1zM1100 409h7v49h-7zM1112 361h1v56h-1zM1109 369h7v40h-7zM1120 287h1v87h-1zM1117 327h7v47h-7zM1129 298h1v32h-1zM1126 313h7v15h-7z" fill="#26a69a" shape-rendering="crispEdges"/>
<path d="M25 410h1v36h-1zM22 420h7v25h-7zM34 431h1v94h-1zM31 439h7v57h-7zM42 481h1v50h-1zM39 494h7v36h-7zM51 501h1v63h-1zM48 529h7v35h-7zM59 559h1v29h-1zM56 561h7v10h-7zM93 414h1v56h-1zM90 424h7v41h-7zM119 345h1v44h-1zM116 380h7v2h-7zM127 365h1v46h-1zM124 378h7v18h-7zM170 261h1v68h-1zM167 288h7v33h-7zM178 287h1v75h-1zM175 320h7v13h-7zM195 248h1v82h-1zM192 266h7v51h-7zM204 314h1v75h-1zM201 318h7v67h-7zM212 338h1v50h-1zM209 383h7v5h-7zM229 316h1v60h-1zM226 337h7v23h-7zM238 352h1v32h-1zM235 357h7v10h-7zM246 323h1v69h-1zM243 372h7v5h-7zM297 162h1v53h-1zM294 179h7v33h-7zM314 117h1v50h-1zM311 142h7v3h-7zM348 72h1v46h-1zM345 100h7v17h-7zM356 97h1v63h-1zM353 115h7v20h-7zM365 121h1v16h-1zM362 132h7v5h-7zM373 104h1v79h-1zM370 128h7v54h-7zM382 170h1v66h-1zM379 182h7v29h-7zM390 180h1v61h-1zM387 208h7v25h-7zM416 205h1v55h-1zM413 223h7v29h-7zM433 213h1v76h-1zM430 244h7v9h-7zM450 234h1v52h-1zM447 253h7v26h-7zM458 276h1v82h-1zM455 278h7v75h-7zM467 340h1v68h-1zM464 352h7v31h-7zM492 322h1v46h-1zM489 338h7v29h-7zM509 315h1v53h-1zM506 356h7v3h-7zM526 326h1v38h-1zM523 355h7v9h-7zM543 312h1v48h-1zM540 326h7v9h-7zM552 313h1v69h-1zM549 335h7v36h-7zM569 325h1v105h-1zM566 365h7v60h-7zM577 413h1v49h-1zM574 420h7v29h-7zM594 393h1v24h-1zM591 412h7v3h-7zM603 401h1v50h-1zM600 413h7v30h-7zM628 394h1v93h-1zM625 403h7v79h-7zM704 367h1v35h-1zM701 373h7v24h-7zM721 384h1v59h-1zM718 393h7v45h-7zM747 398h1v28h-1zM744 410h7v16h-7zM755 412h1v42h-1zM752 425h7v8h-7zM789 309h1v29h-1zM786 309h7v17h-7zM798 298h1v52h-1zM795 324h7v6h-7zM815 304h1v61h-1zM812 315h7v41h-7zM823 353h1v28h-1zM820 355h7v20h-7zM832 360h1v23h-1zM829 374h7v2h-7zM840 370h1v58h-1zM837 376h7v29h-7zM857 302h1v71h-1zM854 355h7v14h-7zM866 358h1v64h-1zM863 365h7v54h-7zM883 375h1v30h-1zM880 394h7v11h-7zM891 394h1v27h-1zM888 400h7v2h-7zM900 393h1v53h-1zM897 402h7v17h-7zM917 394h1v57h-1zM914 412h7v32h-7zM951 343h1v41h-1zM948 348h7v10h-7zM976 305h1v128h-1zM973 309h7v114h-7zM993 390h1v85h-1zM990 397h7v72h-7zM1001 439h1v53h-1zM998 468h7v23h-7zM1010 486h1v53h-1zM1007 490h7v40h-7zM1027 474h1v39h-1zM1024 494h7v16h-7zM1035 497h1v68h-1zM1032 512h7v1h-7zM1095 367h1v92h-1zM1092 369h7v88h-7zM1137 293h1v55h-1zM1134 313h7v26h-7zM1146 337h1v29h-1zM1143 338h7v28h-7z" fill="#ef5350" shape-rendering="crispEdges"/>
</g>
<text x="1233.5" y="253.6" font-size="13.8" fill="#f23645" font-weight="normal" text-anchor="start" textLength="45.5" lengthAdjust="spacing" stroke="#f23645" stroke-width="0.3">0.6680</text>
<text x="1233.5" y="348.7" font-size="13.8" fill="#000" font-weight="normal" text-anchor="start" textLength="128" lengthAdjust="spacing" stroke="#000" stroke-width="0.5">0.6580 (April 2020)</text>
<text x="1233.5" y="471.8" font-size="13.8" fill="#000" font-weight="normal" text-anchor="start" textLength="45.5" lengthAdjust="spacing" stroke="#000" stroke-width="0.12">0.6460</text>
<text x="1233.5" y="559.6" font-size="13.8" fill="#ff9800" font-weight="normal" text-anchor="start" textLength="45.5" lengthAdjust="spacing" stroke="#ff9800" stroke-width="0.5">0.6365</text>
<text x="1233.5" y="648.8" font-size="13.8" fill="#000" font-weight="bold" text-anchor="start" textLength="45.5" lengthAdjust="spacing" >0.6272</text>
<g clip-path="url(#cpRsi)">
<rect x="10" y="705" width="1415" height="81" fill="#7e57c2" fill-opacity="0.1"/>
<path d="M10 705h5v1h-5zM21 705h5v1h-5zM32 705h5v1h-5zM43 705h5v1h-5zM54 705h5v1h-5zM65 705h5v1h-5zM76 705h5v1h-5zM87 705h5v1h-5zM98 705h5v1h-5zM109 705h5v1h-5zM120 705h5v1h-5zM131 705h5v1h-5zM142 705h5v1h-5zM153 705h5v1h-5zM164 705h5v1h-5zM175 705h5v1h-5zM186 705h5v1h-5zM197 705h5v1h-5zM208 705h5v1h-5zM219 705h5v1h-5zM230 705h5v1h-5zM241 705h5v1h-5zM252 705h5v1h-5zM263 705h5v1h-5zM274 705h5v1h-5zM285 705h5v1h-5zM296 705h5v1h-5zM307 705h5v1h-5zM318 705h5v1h-5zM329 705h5v1h-5zM340 705h5v1h-5zM351 705h5v1h-5zM362 705h5v1h-5zM373 705h5v1h-5zM384 705h5v1h-5zM395 705h5v1h-5zM406 705h5v1h-5zM417 705h5v1h-5zM428 705h5v1h-5zM439 705h5v1h-5zM450 705h5v1h-5zM461 705h5v1h-5zM472 705h5v1h-5zM483 705h5v1h-5zM494 705h5v1h-5zM505 705h5v1h-5zM516 705h5v1h-5zM527 705h5v1h-5zM538 705h5v1h-5zM549 705h5v1h-5zM560 705h5v1h-5zM571 705h5v1h-5zM582 705h5v1h-5zM593 705h5v1h-5zM604 705h5v1h-5zM615 705h5v1h-5zM626 705h5v1h-5zM637 705h5v1h-5zM648 705h5v1h-5zM659 705h5v1h-5zM670 705h5v1h-5zM681 705h5v1h-5zM692 705h5v1h-5zM703 705h5v1h-5zM714 705h5v1h-5zM725 705h5v1h-5zM736 705h5v1h-5zM747 705h5v1h-5zM758 705h5v1h-5zM769 705h5v1h-5zM780 705h5v1h-5zM791 705h5v1h-5zM802 705h5v1h-5zM813 705h5v1h-5zM824 705h5v1h-5zM835 705h5v1h-5zM846 705h5v1h-5zM857 705h5v1h-5zM868 705h5v1h-5zM879 705h5v1h-5zM890 705h5v1h-5zM901 705h5v1h-5zM912 705h5v1h-5zM923 705h5v1h-5zM934 705h5v1h-5zM945 705h5v1h-5zM956 705h5v1h-5zM967 705h5v1h-5zM978 705h5v1h-5zM989 705h5v1h-5zM1000 705h5v1h-5zM1011 705h5v1h-5zM1022 705h5v1h-5zM1033 705h5v1h-5zM1044 705h5v1h-5zM1055 705h5v1h-5zM1066 705h5v1h-5zM1077 705h5v1h-5zM1088 705h5v1h-5zM1099 705h5v1h-5zM1110 705h5v1h-5zM1121 705h5v1h-5zM1132 705h5v1h-5zM1143 705h5v1h-5zM1154 705h5v1h-5zM1165 705h5v1h-5zM1176 705h5v1h-5zM1187 705h5v1h-5zM1198 705h5v1h-5zM1209 705h5v1h-5zM1220 705h5v1h-5zM1231 705h5v1h-5zM1242 705h5v1h-5zM1253 705h5v1h-5zM1264 705h5v1h-5zM1275 705h5v1h-5zM1286 705h5v1h-5zM1297 705h5v1h-5zM1308 705h5v1h-5zM1319 705h5v1h-5zM1330 705h5v1h-5zM1341 705h5v1h-5zM1352 705h5v1h-5zM1363 705h5v1h-5zM1374 705h5v1h-5zM1385 705h5v1h-5zM1396 705h5v1h-5zM1407 705h5v1h-5zM1418 705h5v1h-5z" fill="#787b86" shape-rendering="crispEdges"/>
<path d="M10 745h5v1h-5zM21 745h5v1h-5zM32 745h5v1h-5zM43 745h5v1h-5zM54 745h5v1h-5zM65 745h5v1h-5zM76 745h5v1h-5zM87 745h5v1h-5zM98 745h5v1h-5zM109 745h5v1h-5zM120 745h5v1h-5zM131 745h5v1h-5zM142 745h5v1h-5zM153 745h5v1h-5zM164 745h5v1h-5zM175 745h5v1h-5zM186 745h5v1h-5zM197 745h5v1h-5zM208 745h5v1h-5zM219 745h5v1h-5zM230 745h5v1h-5zM241 745h5v1h-5zM252 745h5v1h-5zM263 745h5v1h-5zM274 745h5v1h-5zM285 745h5v1h-5zM296 745h5v1h-5zM307 745h5v1h-5zM318 745h5v1h-5zM329 745h5v1h-5zM340 745h5v1h-5zM351 745h5v1h-5zM362 745h5v1h-5zM373 745h5v1h-5zM384 745h5v1h-5zM395 745h5v1h-5zM406 745h5v1h-5zM417 745h5v1h-5zM428 745h5v1h-5zM439 745h5v1h-5zM450 745h5v1h-5zM461 745h5v1h-5zM472 745h5v1h-5zM483 745h5v1h-5zM494 745h5v1h-5zM505 745h5v1h-5zM516 745h5v1h-5zM527 745h5v1h-5zM538 745h5v1h-5zM549 745h5v1h-5zM560 745h5v1h-5zM571 745h5v1h-5zM582 745h5v1h-5zM593 745h5v1h-5zM604 745h5v1h-5zM615 745h5v1h-5zM626 745h5v1h-5zM637 745h5v1h-5zM648 745h5v1h-5zM659 745h5v1h-5zM670 745h5v1h-5zM681 745h5v1h-5zM692 745h5v1h-5zM703 745h5v1h-5zM714 745h5v1h-5zM725 745h5v1h-5zM736 745h5v1h-5zM747 745h5v1h-5zM758 745h5v1h-5zM769 745h5v1h-5zM780 745h5v1h-5zM791 745h5v1h-5zM802 745h5v1h-5zM813 745h5v1h-5zM824 745h5v1h-5zM835 745h5v1h-5zM846 745h5v1h-5zM857 745h5v1h-5zM868 745h5v1h-5zM879 745h5v1h-5zM890 745h5v1h-5zM901 745h5v1h-5zM912 745h5v1h-5zM923 745h5v1h-5zM934 745h5v1h-5zM945 745h5v1h-5zM956 745h5v1h-5zM967 745h5v1h-5zM978 745h5v1h-5zM989 745h5v1h-5zM1000 745h5v1h-5zM1011 745h5v1h-5zM1022 745h5v1h-5zM1033 745h5v1h-5zM1044 745h5v1h-5zM1055 745h5v1h-5zM1066 745h5v1h-5zM1077 745h5v1h-5zM1088 745h5v1h-5zM1099 745h5v1h-5zM1110 745h5v1h-5zM1121 745h5v1h-5zM1132 745h5v1h-5zM1143 745h5v1h-5zM1154 745h5v1h-5zM1165 745h5v1h-5zM1176 745h5v1h-5zM1187 745h5v1h-5zM1198 745h5v1h-5zM1209 745h5v1h-5zM1220 745h5v1h-5zM1231 745h5v1h-5zM1242 745h5v1h-5zM1253 745h5v1h-5zM1264 745h5v1h-5zM1275 745h5v1h-5zM1286 745h5v1h-5zM1297 745h5v1h-5zM1308 745h5v1h-5zM1319 745h5v1h-5zM1330 745h5v1h-5zM1341 745h5v1h-5zM1352 745h5v1h-5zM1363 745h5v1h-5zM1374 745h5v1h-5zM1385 745h5v1h-5zM1396 745h5v1h-5zM1407 745h5v1h-5zM1418 745h5v1h-5z" fill="#b2b5be" shape-rendering="crispEdges"/>
<path d="M10 785h5v1h-5zM21 785h5v1h-5zM32 785h5v1h-5zM43 785h5v1h-5zM54 785h5v1h-5zM65 785h5v1h-5zM76 785h5v1h-5zM87 785h5v1h-5zM98 785h5v1h-5zM109 785h5v1h-5zM120 785h5v1h-5zM131 785h5v1h-5zM142 785h5v1h-5zM153 785h5v1h-5zM164 785h5v1h-5zM175 785h5v1h-5zM186 785h5v1h-5zM197 785h5v1h-5zM208 785h5v1h-5zM219 785h5v1h-5zM230 785h5v1h-5zM241 785h5v1h-5zM252 785h5v1h-5zM263 785h5v1h-5zM274 785h5v1h-5zM285 785h5v1h-5zM296 785h5v1h-5zM307 785h5v1h-5zM318 785h5v1h-5zM329 785h5v1h-5zM340 785h5v1h-5zM351 785h5v1h-5zM362 785h5v1h-5zM373 785h5v1h-5zM384 785h5v1h-5zM395 785h5v1h-5zM406 785h5v1h-5zM417 785h5v1h-5zM428 785h5v1h-5zM439 785h5v1h-5zM450 785h5v1h-5zM461 785h5v1h-5zM472 785h5v1h-5zM483 785h5v1h-5zM494 785h5v1h-5zM505 785h5v1h-5zM516 785h5v1h-5zM527 785h5v1h-5zM538 785h5v1h-5zM549 785h5v1h-5zM560 785h5v1h-5zM571 785h5v1h-5zM582 785h5v1h-5zM593 785h5v1h-5zM604 785h5v1h-5zM615 785h5v1h-5zM626 785h5v1h-5zM637 785h5v1h-5zM648 785h5v1h-5zM659 785h5v1h-5zM670 785h5v1h-5zM681 785h5v1h-5zM692 785h5v1h-5zM703 785h5v1h-5zM714 785h5v1h-5zM725 785h5v1h-5zM736 785h5v1h-5zM747 785h5v1h-5zM758 785h5v1h-5zM769 785h5v1h-5zM780 785h5v1h-5zM791 785h5v1h-5zM802 785h5v1h-5zM813 785h5v1h-5zM824 785h5v1h-5zM835 785h5v1h-5zM846 785h5v1h-5zM857 785h5v1h-5zM868 785h5v1h-5zM879 785h5v1h-5zM890 785h5v1h-5zM901 785h5v1h-5zM912 785h5v1h-5zM923 785h5v1h-5zM934 785h5v1h-5zM945 785h5v1h-5zM956 785h5v1h-5zM967 785h5v1h-5zM978 785h5v1h-5zM989 785h5v1h-5zM1000 785h5v1h-5zM1011 785h5v1h-5zM1022 785h5v1h-5zM1033 785h5v1h-5zM1044 785h5v1h-5zM1055 785h5v1h-5zM1066 785h5v1h-5zM1077 785h5v1h-5zM1088 785h5v1h-5zM1099 785h5v1h-5zM1110 785h5v1h-5zM1121 785h5v1h-5zM1132 785h5v1h-5zM1143 785h5v1h-5zM1154 785h5v1h-5zM1165 785h5v1h-5zM1176 785h5v1h-5zM1187 785h5v1h-5zM1198 785h5v1h-5zM1209 785h5v1h-5zM1220 785h5v1h-5zM1231 785h5v1h-5zM1242 785h5v1h-5zM1253 785h5v1h-5zM1264 785h5v1h-5zM1275 785h5v1h-5zM1286 785h5v1h-5zM1297 785h5v1h-5zM1308 785h5v1h-5zM1319 785h5v1h-5zM1330 785h5v1h-5zM1341 785h5v1h-5zM1352 785h5v1h-5zM1363 785h5v1h-5zM1374 785h5v1h-5zM1385 785h5v1h-5zM1396 785h5v1h-5zM1407 785h5v1h-5zM1418 785h5v1h-5z" fill="#787b86" shape-rendering="crispEdges"/>
<path d="M10.3 750.8 L14.3 749.3 L18.3 747.8 L22.3 746.7 L26.3 745.8 L30.3 745.1 L34.3 744.5 L38.3 744.0 L42.3 743.5 L46.3 743.0 L50.3 742.7 L54.3 742.5 L58.3 742.4 L62.3 742.4 L66.3 742.1 L70.3 741.5 L74.3 740.4 L78.3 739.1 L82.3 737.9 L86.3 737.0 L90.3 736.3 L94.3 735.6 L98.3 734.9 L102.3 734.3 L106.3 733.4 L110.3 732.3 L114.3 731.5 L118.3 731.0 L122.3 730.7 L126.3 730.6 L130.3 730.7 L134.3 730.8 L138.3 730.7 L142.3 730.4 L146.3 730.0 L150.3 729.2 L154.3 728.3 L158.3 727.3 L162.3 726.1 L166.3 724.9 L170.3 723.7 L174.3 722.5 L178.3 721.3 L182.3 719.9 L186.3 718.5 L190.3 718.1 L194.3 718.1 L198.3 718.6 L202.3 719.3 L206.3 719.8 L210.3 720.0 L214.3 720.2 L218.3 720.5 L222.3 720.9 L226.3 721.4 L230.3 722.0 L234.3 722.7 L238.3 723.4 L242.3 724.0 L246.3 724.4 L250.3 724.6 L254.3 724.6 L258.3 724.6 L262.3 724.6 L266.3 724.8 L270.3 725.0 L274.3 725.2 L278.3 725.4 L282.3 725.4 L286.3 725.2 L290.3 725.0 L294.3 724.7 L298.3 724.4 L302.3 724.2 L306.3 724.0 L310.3 723.7 L314.3 723.0 L318.3 721.9 L322.3 720.6 L326.3 719.5 L330.3 718.4 L334.3 717.4 L338.3 716.3 L342.3 715.3 L346.3 714.3 L350.3 713.4 L354.3 712.5 L358.3 711.7 L362.3 711.0 L366.3 710.6 L370.3 710.7 L374.3 711.3 L378.3 712.0 L382.3 712.9 L386.3 713.9 L390.3 714.9 L394.3 715.9 L398.3 716.9 L402.3 718.0 L406.3 719.0 L410.3 720.1 L414.3 721.3 L418.3 722.5 L422.3 723.8 L426.3 725.2 L430.3 726.7 L434.3 728.1 L438.3 729.6 L442.3 731.1 L446.3 732.8 L450.3 734.6 L454.3 736.9 L458.3 739.5 L462.3 742.1 L466.3 744.9 L470.3 747.3 L474.3 749.6 L478.3 751.5 L482.3 753.1 L486.3 754.7 L490.3 756.3 L494.3 757.4 L498.3 758.4 L502.3 759.2 L506.3 760.1 L510.3 760.9 L514.3 761.7 L518.3 762.5 L522.3 763.3 L526.3 764.1 L530.3 764.5 L534.3 764.6 L538.3 764.8 L542.3 765.0 L546.3 765.4 L550.3 766.0 L554.3 766.7 L558.3 767.4 L562.3 768.1 L566.3 768.6 L570.3 769.1 L574.3 769.3 L578.3 769.4 L582.3 769.0 L586.3 768.6 L590.3 768.5 L594.3 768.6 L598.3 768.6 L602.3 768.5 L606.3 768.4 L610.3 768.2 L614.3 768.0 L618.3 767.8 L622.3 767.8 L626.3 768.1 L630.3 768.4 L634.3 768.4 L638.3 768.1 L642.3 767.7 L646.3 767.5 L650.3 767.4 L654.3 767.3 L658.3 767.2 L662.3 766.9 L666.3 766.4 L670.3 765.8 L674.3 765.0 L678.3 764.1 L682.3 763.1 L686.3 761.9 L690.3 760.7 L694.3 759.6 L698.3 758.6 L702.3 757.8 L706.3 757.0 L710.3 756.4 L714.3 755.9 L718.3 755.7 L722.3 755.6 L726.3 755.6 L730.3 755.4 L734.3 755.0 L738.3 754.5 L742.3 753.9 L746.3 753.5 L750.3 753.3 L754.3 753.0 L758.3 752.5 L762.3 751.8 L766.3 751.0 L770.3 750.0 L774.3 749.0 L778.3 748.0 L782.3 747.2 L786.3 746.5 L790.3 745.8 L794.3 745.1 L798.3 744.3 L802.3 743.6 L806.3 743.0 L810.3 742.7 L814.3 742.6 L818.3 742.5 L822.3 742.4 L826.3 742.3 L830.3 742.1 L834.3 741.9 L838.3 741.6 L842.3 741.0 L846.3 740.3 L850.3 739.9 L854.3 739.7 L858.3 739.8 L862.3 739.7 L866.3 739.4 L870.3 739.0 L874.3 738.8 L878.3 739.1 L882.3 739.7 L886.3 740.6 L890.3 741.7 L894.3 742.9 L898.3 744.1 L902.3 745.2 L906.3 746.1 L910.3 747.1 L914.3 748.3 L918.3 749.6 L922.3 750.6 L926.3 751.3 L930.3 751.7 L934.3 751.6 L938.3 751.3 L942.3 751.0 L946.3 750.7 L950.3 750.1 L954.3 749.1 L958.3 748.1 L962.3 747.2 L966.3 746.6 L970.3 746.6 L974.3 747.1 L978.3 747.2 L982.3 746.8 L986.3 746.8 L990.3 747.2 L994.3 747.7 L998.3 748.3 L1002.3 749.0 L1006.3 749.7 L1010.3 750.3 L1014.3 750.7 L1018.3 751.0 L1022.3 751.3 L1026.3 751.6 L1030.3 751.9 L1034.3 752.1 L1038.3 752.3 L1042.3 752.5 L1046.3 752.8 L1050.3 753.2 L1054.3 753.7 L1058.3 754.1 L1062.3 754.4 L1066.3 754.7 L1070.3 755.0 L1074.3 755.2 L1078.3 755.4 L1082.3 755.7 L1086.3 755.8 L1090.3 755.8 L1094.3 755.8 L1098.3 755.6 L1102.3 755.1 L1106.3 754.4 L1110.3 753.4 L1114.3 752.0 L1118.3 750.3 L1122.3 748.6 L1126.3 746.9 L1130.3 745.3 L1134.3 744.1 L1138.3 742.9 L1142.3 741.9 L1146.0 740.9" fill="none" stroke="#fbe85a" stroke-width="1.15" stroke-linejoin="round" stroke-linecap="round" />
<path d="M8.1 729.6 L16.9 716.5 L24.9 722.3 L33.9 734.7 L41.9 743.0 L50.9 750.2 L58.9 751.6 L67.9 747.1 L75.9 723.4 L84.9 722.7 L92.9 732.2 L101.9 725.0 L109.9 718.2 L118.9 718.6 L126.9 722.7 L135.9 719.6 L143.9 715.5 L152.9 711.6 L160.9 705.4 L169.9 715.5 L177.9 719.2 L186.9 707.9 L194.9 723.8 L203.9 739.3 L211.9 740.1 L220.9 729.8 L228.9 735.8 L237.9 737.2 L245.9 739.7 L253.9 721.3 L262.9 716.3 L270.9 715.3 L279.9 714.5 L287.9 706.4 L296.9 716.1 L304.9 706.2 L313.9 707.0 L321.9 706.0 L330.9 703.3 L338.9 700.2 L347.9 706.2 L355.9 713.0 L364.9 713.9 L372.9 728.9 L381.9 736.8 L389.9 743.6 L398.9 742.2 L406.9 741.3 L415.9 749.8 L423.9 746.3 L432.9 749.6 L440.9 750.2 L449.9 758.1 L457.9 775.8 L466.9 781.8 L474.9 774.4 L483.9 766.3 L491.9 771.9 L500.9 768.8 L508.9 768.8 L517.9 766.3 L525.9 769.2 L534.9 753.3 L542.9 756.6 L551.9 766.9 L559.9 764.7 L568.9 778.9 L576.9 783.9 L585.9 768.8 L593.9 769.4 L602.9 776.0 L610.9 763.6 L618.9 760.5 L627.9 777.7 L635.9 765.1 L644.9 755.6 L652.9 753.3 L661.9 751.0 L669.9 747.5 L678.9 746.5 L686.9 745.5 L695.9 742.2 L703.9 751.2 L712.9 749.0 L720.9 763.6 L729.9 763.2 L737.9 752.9 L746.9 757.8 L754.9 759.5 L763.9 737.2 L771.9 724.0 L780.9 721.9 L788.9 726.0 L797.9 728.1 L805.9 723.8 L814.9 739.9 L822.9 746.1 L831.9 746.7 L839.9 756.0 L848.9 739.9 L856.9 744.0 L865.9 758.7 L873.9 750.8 L882.9 753.5 L890.9 752.7 L899.9 758.0 L907.9 755.4 L916.9 764.7 L924.9 752.3 L933.9 739.5 L941.9 732.0 L950.9 735.5 L958.9 728.7 L967.9 722.3 L975.9 756.4 L984.9 749.6 L992.9 764.2 L1000.9 768.8 L1009.9 775.4 L1017.9 765.1 L1026.9 768.2 L1034.9 768.8 L1043.9 759.1 L1051.9 748.8 L1060.9 746.5 L1068.9 740.5 L1077.9 737.6 L1085.9 730.4 L1094.9 752.7 L1102.9 741.3 L1111.9 733.3 L1119.9 724.8 L1128.9 722.5 L1136.9 730.0 L1145.9 736.4" fill="none" stroke="#7e57c2" stroke-width="1.05" stroke-linejoin="round" stroke-linecap="round" />
</g>
<rect x="1425" y="27" width="1" height="794" fill="#434651" shape-rendering="crispEdges"/>
<rect x="10" y="794" width="1478" height="1" fill="#434651" shape-rendering="crispEdges"/>
<text x="1432.9" y="98.0" font-size="12" fill="#50535e" font-weight="normal" text-anchor="start" textLength="42" lengthAdjust="spacingAndGlyphs" stroke="#50535e" stroke-width="0.2">0.68500</text>
<text x="1432.9" y="146.4" font-size="12" fill="#50535e" font-weight="normal" text-anchor="start" textLength="42" lengthAdjust="spacingAndGlyphs" stroke="#50535e" stroke-width="0.2">0.68000</text>
<text x="1432.9" y="194.8" font-size="12" fill="#50535e" font-weight="normal" text-anchor="start" textLength="42" lengthAdjust="spacingAndGlyphs" stroke="#50535e" stroke-width="0.2">0.67500</text>
<text x="1432.9" y="243.2" font-size="12" fill="#50535e" font-weight="normal" text-anchor="start" textLength="42" lengthAdjust="spacingAndGlyphs" stroke="#50535e" stroke-width="0.2">0.67000</text>
<text x="1432.9" y="291.6" font-size="12" fill="#50535e" font-weight="normal" text-anchor="start" textLength="42" lengthAdjust="spacingAndGlyphs" stroke="#50535e" stroke-width="0.2">0.66500</text>
<text x="1432.9" y="436.9" font-size="12" fill="#50535e" font-weight="normal" text-anchor="start" textLength="42" lengthAdjust="spacingAndGlyphs" stroke="#50535e" stroke-width="0.2">0.65000</text>
<text x="1432.9" y="485.3" font-size="12" fill="#50535e" font-weight="normal" text-anchor="start" textLength="42" lengthAdjust="spacingAndGlyphs" stroke="#50535e" stroke-width="0.2">0.64500</text>
<text x="1432.9" y="533.7" font-size="12" fill="#50535e" font-weight="normal" text-anchor="start" textLength="42" lengthAdjust="spacingAndGlyphs" stroke="#50535e" stroke-width="0.2">0.64000</text>
<text x="1432.9" y="582.1" font-size="12" fill="#50535e" font-weight="normal" text-anchor="start" textLength="42" lengthAdjust="spacingAndGlyphs" stroke="#50535e" stroke-width="0.2">0.63500</text>
<text x="1432.9" y="630.6" font-size="12" fill="#50535e" font-weight="normal" text-anchor="start" textLength="42" lengthAdjust="spacingAndGlyphs" stroke="#50535e" stroke-width="0.2">0.63000</text>
<text x="1432.9" y="679.0" font-size="12" fill="#50535e" font-weight="normal" text-anchor="start" textLength="42" lengthAdjust="spacingAndGlyphs" stroke="#50535e" stroke-width="0.2">0.62500</text>
<rect x="1429.3" y="30.7" width="55.5" height="26.3" rx="4.5" fill="#fff" stroke="#e9eaf0" stroke-width="1.6"/>
<text x="1438.6" y="48.6" font-size="12" fill="#131722" font-weight="normal" text-anchor="start" textLength="21" lengthAdjust="spacingAndGlyphs" >USD</text>
<path d="M1425 250H1478.8Q1481 250 1481 252.2V264.8Q1481 267 1478.8 267H1425Z" fill="#f23645"/>
<text x="1432.8" y="262.8" font-size="12" fill="#fff" font-weight="bold" text-anchor="start" textLength="42.4" lengthAdjust="spacingAndGlyphs" >0.66800</text>
<path d="M1425 323H1478.8Q1481 323 1481 325.2V354.8Q1481 357 1478.8 357H1425Z" fill="#000"/>
<text x="1432.8" y="336.0" font-size="12" fill="#fff" font-weight="bold" text-anchor="start" textLength="42.4" lengthAdjust="spacingAndGlyphs" >0.65802</text>
<text x="1432.8" y="352.8" font-size="12" fill="#fff" font-weight="bold" text-anchor="start" textLength="42.4" lengthAdjust="spacingAndGlyphs" >0.65770</text>
<path d="M1424 357H1373.2Q1371 357 1371 359.2V371.8Q1371 374 1373.2 374H1424Z" fill="#ef5350"/>
<text x="1375.8" y="370.0" font-size="12" fill="#fff" font-weight="bold" text-anchor="start" textLength="43" lengthAdjust="spacingAndGlyphs" >AUDUSD</text>
<path d="M1425 357H1482.8Q1485 357 1485 359.2V385.8Q1485 388 1482.8 388H1425Z" fill="#ef5350"/>
<text x="1432.8" y="370.0" font-size="12" fill="#fff" font-weight="bold" text-anchor="start" textLength="41.5" lengthAdjust="spacingAndGlyphs" >0.65691</text>
<text x="1433.8" y="383.9" font-size="12" fill="#fff" font-weight="normal" text-anchor="start" textLength="45.2" lengthAdjust="spacingAndGlyphs" fill-opacity="0.75">14:18:43</text>
<path d="M1424 390H1375.2Q1373 390 1373 392.2V404.8Q1373 407 1375.2 407H1424Z" fill="#2a2aff"/>
<text x="1377.9" y="403.2" font-size="12" fill="#fff" font-weight="bold" text-anchor="start" textLength="41" lengthAdjust="spacingAndGlyphs" >SMA:MA</text>
<path d="M1425 390H1478.8Q1481 390 1481 392.2V404.8Q1481 407 1478.8 407H1425Z" fill="#2a2aff"/>
<text x="1432.8" y="403.2" font-size="12" fill="#fff" font-weight="bold" text-anchor="start" textLength="42.4" lengthAdjust="spacingAndGlyphs" >0.65355</text>
<path d="M1424 407H1375.2Q1373 407 1373 409.2V421.8Q1373 424 1375.2 424H1424Z" fill="#f23645"/>
<text x="1377.9" y="419.6" font-size="12" fill="#fff" font-weight="bold" text-anchor="start" textLength="41" lengthAdjust="spacingAndGlyphs" >SMA:MA</text>
<path d="M1425 407H1478.8Q1481 407 1481 409.2V421.8Q1481 424 1478.8 424H1425Z" fill="#f23645"/>
<text x="1432.8" y="419.6" font-size="12" fill="#fff" font-weight="bold" text-anchor="start" textLength="42.4" lengthAdjust="spacingAndGlyphs" >0.65200</text>
<path d="M1425 464H1478.8Q1481 464 1481 466.2V478.8Q1481 481 1478.8 481H1425Z" fill="#000"/>
<text x="1432.8" y="476.9" font-size="12" fill="#fff" font-weight="bold" text-anchor="start" textLength="42.4" lengthAdjust="spacingAndGlyphs" >0.64586</text>
<path d="M1425 556H1478.8Q1481 556 1481 558.2V570.8Q1481 573 1478.8 573H1425Z" fill="#ff9800"/>
<text x="1432.8" y="568.8" font-size="12" fill="#0a0a0a" font-weight="normal" text-anchor="start" textLength="42.4" lengthAdjust="spacingAndGlyphs" stroke="#0a0a0a" stroke-width="0.2">0.63633</text>
<path d="M1425 645H1478.8Q1481 645 1481 647.2V659.8Q1481 662 1478.8 662H1425Z" fill="#000"/>
<text x="1432.8" y="658.0" font-size="12" fill="#fff" font-weight="bold" text-anchor="start" textLength="42.4" lengthAdjust="spacingAndGlyphs" >0.62724</text>
<path d="M1424 712H1334.2Q1332 712 1332 714.2V726.8Q1332 729 1334.2 729H1424Z" fill="#fff"/>
<path d="M1425 712H1465.8Q1468 712 1468 714.2V726.8Q1468 729 1465.8 729H1425Z" fill="#fff"/>
<text x="1336.9" y="724.6" font-size="12" fill="#131722" font-weight="normal" text-anchor="start" textLength="81.8" lengthAdjust="spacingAndGlyphs" >Regular Bearish</text>
<text x="1433.2" y="724.6" font-size="12" fill="#131722" font-weight="normal" text-anchor="start" textLength="29" lengthAdjust="spacingAndGlyphs" >61.39</text>
<path d="M1424 729H1400.2Q1398 729 1398 731.2V743.8Q1398 746 1400.2 746H1424Z" fill="#7e57c2"/>
<text x="1403.3" y="741.8" font-size="12" fill="#fff" font-weight="bold" text-anchor="start" textLength="15.7" lengthAdjust="spacingAndGlyphs" >RSI</text>
<path d="M1425 729H1465.8Q1468 729 1468 731.2V743.8Q1468 746 1465.8 746H1425Z" fill="#7e57c2"/>
<text x="1433.2" y="741.8" font-size="12" fill="#fff" font-weight="bold" text-anchor="start" textLength="29" lengthAdjust="spacingAndGlyphs" >54.15</text>
<path d="M1424 746H1346.2Q1344 746 1344 748.2V760.8Q1344 763 1346.2 763H1424Z" fill="#ffeb3b"/>
<text x="1348.8" y="759.0" font-size="12" fill="#131722" font-weight="normal" text-anchor="start" textLength="70.2" lengthAdjust="spacingAndGlyphs" >RSI-based MA</text>
<path d="M1425 746H1465.8Q1468 746 1468 748.2V760.8Q1468 763 1465.8 763H1425Z" fill="#ffeb3b"/>
<text x="1433.2" y="759.0" font-size="12" fill="#131722" font-weight="normal" text-anchor="start" textLength="29" lengthAdjust="spacingAndGlyphs" >52.01</text>
<path d="M1424 763H1337.2Q1335 763 1335 765.2V777.8Q1335 780 1337.2 780H1424Z" fill="#fff"/>
<path d="M1425 763H1465.8Q1468 763 1468 765.2V777.8Q1468 780 1465.8 780H1425Z" fill="#fff"/>
<text x="1340.7" y="775.5" font-size="12" fill="#131722" font-weight="normal" text-anchor="start" textLength="78" lengthAdjust="spacingAndGlyphs" >Regular Bullish</text>
<text x="1433.2" y="775.5" font-size="12" fill="#131722" font-weight="normal" text-anchor="start" textLength="29" lengthAdjust="spacingAndGlyphs" >46.12</text>
<text x="79.8" y="812.3" font-size="12" fill="#50535e" font-weight="normal" text-anchor="start" textLength="11.4" lengthAdjust="spacingAndGlyphs" stroke="#50535e" stroke-width="0.2">15</text>
<text x="178.0" y="812.3" font-size="12" fill="#50535e" font-weight="normal" text-anchor="start" textLength="19" lengthAdjust="spacingAndGlyphs" stroke="#50535e" stroke-width="0.2">Dec</text>
<text x="274.6" y="812.3" font-size="12" fill="#50535e" font-weight="normal" text-anchor="start" textLength="11.8" lengthAdjust="spacingAndGlyphs" stroke="#50535e" stroke-width="0.2">18</text>
<text x="351.9" y="812.3" font-size="12" fill="#2a2e39" font-weight="normal" text-anchor="start" textLength="27.3" lengthAdjust="spacingAndGlyphs" stroke="#2a2e39" stroke-width="0.5">2024</text>
<text x="444.8" y="812.3" font-size="12" fill="#50535e" font-weight="normal" text-anchor="start" textLength="11.4" lengthAdjust="spacingAndGlyphs" stroke="#50535e" stroke-width="0.2">15</text>
<text x="550.7" y="812.3" font-size="12" fill="#50535e" font-weight="normal" text-anchor="start" textLength="19.6" lengthAdjust="spacingAndGlyphs" stroke="#50535e" stroke-width="0.2">Feb</text>
<text x="639.8" y="812.3" font-size="12" fill="#50535e" font-weight="normal" text-anchor="start" textLength="11.4" lengthAdjust="spacingAndGlyphs" stroke="#50535e" stroke-width="0.2">15</text>
<text x="728.6" y="812.3" font-size="12" fill="#50535e" font-weight="normal" text-anchor="start" textLength="19.8" lengthAdjust="spacingAndGlyphs" stroke="#50535e" stroke-width="0.2">Mar</text>
<text x="826.6" y="812.3" font-size="12" fill="#50535e" font-weight="normal" text-anchor="start" textLength="11.8" lengthAdjust="spacingAndGlyphs" stroke="#50535e" stroke-width="0.2">18</text>
<text x="908.5" y="812.3" font-size="12" fill="#50535e" font-weight="normal" text-anchor="start" textLength="18" lengthAdjust="spacingAndGlyphs" stroke="#50535e" stroke-width="0.2">Apr</text>
<text x="995.8" y="812.3" font-size="12" fill="#50535e" font-weight="normal" text-anchor="start" textLength="11.4" lengthAdjust="spacingAndGlyphs" stroke="#50535e" stroke-width="0.2">15</text>
<text x="1093.2" y="812.3" font-size="12" fill="#50535e" font-weight="normal" text-anchor="start" textLength="20.6" lengthAdjust="spacingAndGlyphs" stroke="#50535e" stroke-width="0.2">May</text>
<text x="1208.3" y="812.3" font-size="12" fill="#50535e" font-weight="normal" text-anchor="start" textLength="12.4" lengthAdjust="spacingAndGlyphs" stroke="#50535e" stroke-width="0.2">20</text>
<text x="1289.5" y="812.3" font-size="12" fill="#50535e" font-weight="normal" text-anchor="start" textLength="18" lengthAdjust="spacingAndGlyphs" stroke="#50535e" stroke-width="0.2">Jun</text>
<text x="1377.8" y="812.3" font-size="12" fill="#50535e" font-weight="normal" text-anchor="start" textLength="11.4" lengthAdjust="spacingAndGlyphs" stroke="#50535e" stroke-width="0.2">17</text>
<g transform="translate(10.1,834.1) scale(0.5525)"><path d="M14 18H7V7H0V0h14v18ZM28 18h-8l7.5-18h8L28 18Z" fill="#131722"/><circle cx="20" cy="4" r="4" fill="#131722"/></g>
<text x="33.4" y="844.1" font-size="13.2" fill="#131722" font-weight="normal" text-anchor="start" textLength="70" lengthAdjust="spacingAndGlyphs" >TradingView</text>
<text x="10.5" y="18.9" font-size="12.1" fill="#2a2e39" font-weight="normal" text-anchor="start" textLength="388.4" lengthAdjust="spacingAndGlyphs" >Richard_Snow published on TradingView.com, May 08, 2024 08:41 UTC+1</text>
</svg>
<div class="wm1">海马财经</div>
<div class="wm2">zzrt01.cn</div>
</div>
</body>
</html>
